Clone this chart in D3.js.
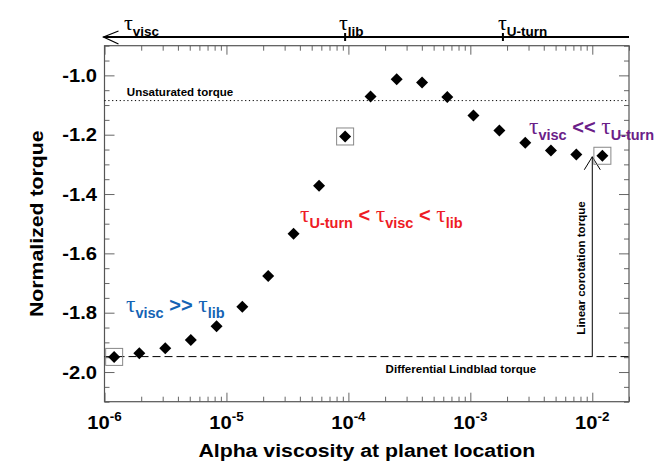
<!DOCTYPE html>
<html><head><meta charset="utf-8">
<script src="https://cdn.jsdelivr.net/npm/d3@7"></script>
<style>body{margin:0;background:#fff}svg{display:block}</style>
</head><body>
<svg id="c" width="664" height="475"></svg>
<script>
// ---- data ----
const alphaVals = [1.2e-6, 1.93e-6, 3.15e-6, 5.1e-6, 8.3e-6, 1.35e-5, 2.2e-5, 3.55e-5, 5.75e-5, 9.4e-5,
                   1.52e-4, 2.49e-4, 4.02e-4, 6.47e-4, 1.06e-3, 1.73e-3, 2.82e-3, 4.58e-3, 7.4e-3, 1.21e-2];
const torqueVals = [-1.949, -1.937, -1.920, -1.892, -1.846, -1.780, -1.676, -1.534, -1.372, -1.206,
                    -1.071, -1.013, -1.024, -1.073, -1.135, -1.186, -1.227, -1.253, -1.267, -1.271];
const boxedIdx = [0, 9, 19];
const yTickVals = [-2.0, -1.8, -1.6, -1.4, -1.2, -1.0];
const yTickLabels = ["-2.0", "-1.8", "-1.6", "-1.4", "-1.2", "-1.0"];
const xTickExps = [-6, -5, -4, -3, -2];
const lindbladTorque = -1.948;
const unsaturatedTorque = -1.085;
const tauLib = 9.4e-5, tauUturn = 1.85e-3;
const corotationX = 1e-2;

// ---- setup ----
const svg = d3.select("#c");
const L = 104.5, R = 629, T = 45.7, B = 401.7;
const x = d3.scaleLog().domain([1e-6, 2e-2]).range([L, R]);
const y = d3.scaleLinear().domain([-2.1, -0.9]).range([B, T]);
const SANS = "'Liberation Sans', Arial, Helvetica, sans-serif";
const SERIF = "'Liberation Serif', 'Times New Roman', serif";
const SX = 1.12;

const xMajor = xTickExps.map(e => Math.pow(10, e));
const xMinor = [];
for (let e = -6; e <= -2; e++) for (let k = 2; k <= 9; k++) { const v = k * Math.pow(10, e); if (v <= 2e-2 + 1e-12) xMinor.push(v); }
const yMinor = d3.range(-2.1, -0.899, 0.05).map(v => +v.toFixed(2)).filter(v => !yTickVals.some(t => Math.abs(t - v) < 1e-6));

const tickColor = "#666";
function styleAxis(g) { g.select(".domain").remove(); g.selectAll("line").attr("stroke", tickColor).attr("stroke-width", 1); g.selectAll("text").remove(); }

svg.append("g").attr("transform", `translate(0,${B})`).call(d3.axisBottom(x).tickValues(xMajor).tickSizeInner(-9).tickSizeOuter(0).tickFormat("")).call(styleAxis);
svg.append("g").attr("transform", `translate(0,${B})`).call(d3.axisBottom(x).tickValues(xMinor).tickSizeInner(-5).tickSizeOuter(0).tickFormat("")).call(styleAxis);
svg.append("g").attr("transform", `translate(0,${T})`).call(d3.axisTop(x).tickValues(xMajor).tickSizeInner(-9).tickSizeOuter(0).tickFormat("")).call(styleAxis);
svg.append("g").attr("transform", `translate(0,${T})`).call(d3.axisTop(x).tickValues(xMinor).tickSizeInner(-5).tickSizeOuter(0).tickFormat("")).call(styleAxis);
svg.append("g").attr("transform", `translate(${L},0)`).call(d3.axisLeft(y).tickValues(yTickVals).tickSizeInner(-10).tickSizeOuter(0).tickFormat("")).call(styleAxis);
svg.append("g").attr("transform", `translate(${L},0)`).call(d3.axisLeft(y).tickValues(yMinor).tickSizeInner(-5).tickSizeOuter(0).tickFormat("")).call(styleAxis);
svg.append("g").attr("transform", `translate(${R},0)`).call(d3.axisRight(y).tickValues(yTickVals).tickSizeInner(-10).tickSizeOuter(0).tickFormat("")).call(styleAxis);
svg.append("g").attr("transform", `translate(${R},0)`).call(d3.axisRight(y).tickValues(yMinor).tickSizeInner(-5).tickSizeOuter(0).tickFormat("")).call(styleAxis);

svg.append("rect").attr("x", L).attr("y", T).attr("width", R - L).attr("height", B - T)
  .attr("fill", "none").attr("stroke", "#555").attr("stroke-width", 1.2);

function txt(px, py, sx, rot) {
  let tr = `translate(${px},${py})`;
  if (rot) tr += ` rotate(${rot})`;
  tr += ` scale(${sx},1)`;
  return svg.append("text").attr("transform", tr).attr("font-family", SANS).attr("font-weight", "bold");
}

yTickVals.forEach((v, i) => {
  txt(97, y(v) + 6.5, SX).attr("text-anchor", "end").attr("font-size", 18).attr("fill", "#000").text(yTickLabels[i]);
});
xTickExps.forEach(e => {
  const t = txt(x(Math.pow(10, e)), 429, SX).attr("text-anchor", "middle").attr("font-size", 18).attr("fill", "#000");
  t.append("tspan").text("10");
  t.append("tspan").attr("font-size", 12).attr("dy", -8).text(String(e));
});

txt((L + R) / 2, 457, SX).attr("text-anchor", "middle").attr("font-size", 19).text("Alpha viscosity at planet location");
txt(43, (T + B) / 2, SX, -90).attr("text-anchor", "middle").attr("font-size", 19).text("Normalized torque");

svg.append("line").attr("x1", L).attr("x2", R).attr("y1", y(lindbladTorque)).attr("y2", y(lindbladTorque))
  .attr("stroke", "#000").attr("stroke-width", 1).attr("stroke-dasharray", "8,4");
svg.append("line").attr("x1", L).attr("x2", R).attr("y1", y(unsaturatedTorque)).attr("y2", y(unsaturatedTorque))
  .attr("stroke", "#000").attr("stroke-width", 1).attr("stroke-dasharray", "1.2,2.6");

txt(126.8, 95.5, 1.05).attr("font-size", 11).text("Unsaturated torque");
txt(385.6, 372.5, 1.05).attr("font-size", 11).text("Differential Lindblad torque");

const ax = x(corotationX), ayTop = y(torqueVals[torqueVals.length - 1]) + 1, ayBot = y(lindbladTorque);
svg.append("line").attr("x1", ax).attr("x2", ax).attr("y1", ayBot).attr("y2", ayTop).attr("stroke", "#000").attr("stroke-width", 1);
svg.append("path").attr("d", `M${ax - 8},${ayTop + 13}L${ax},${ayTop}L${ax + 8},${ayTop + 13}`)
  .attr("fill", "none").attr("stroke", "#000").attr("stroke-width", 1);
txt(585, 268, 1.05, -90).attr("text-anchor", "middle").attr("font-size", 11).text("Linear corotation torque");

svg.append("g").selectAll("rect").data(boxedIdx).join("rect")
  .attr("x", i => x(alphaVals[i]) - 8.5).attr("y", i => y(torqueVals[i]) - 8.5)
  .attr("width", 17).attr("height", 17).attr("fill", "none").attr("stroke", "#888").attr("stroke-width", 1);

const diamond = d3.symbol().type(d3.symbolSquare).size(72);
svg.append("g").selectAll("path").data(alphaVals.map((a, i) => [a, torqueVals[i]])).join("path")
  .attr("d", diamond)
  .attr("transform", d => `translate(${x(d[0])},${y(d[1])}) rotate(45)`)
  .attr("fill", "#000");

const topY = 37;
svg.append("line").attr("x1", x(1e-6) - 1).attr("x2", R).attr("y1", topY).attr("y2", topY).attr("stroke", "#000").attr("stroke-width", 2);
svg.append("path").attr("d", `M${x(1e-6) + 14},${topY - 6}L${x(1e-6) - 1},${topY}L${x(1e-6) + 14},${topY + 7}`)
  .attr("fill", "none").attr("stroke", "#000").attr("stroke-width", 1.2);
[tauLib, tauUturn].forEach(v => {
  svg.append("line").attr("x1", x(v)).attr("x2", x(v)).attr("y1", topY - 4).attr("y2", topY + 4).attr("stroke", "#000").attr("stroke-width", 2);
});

function tauLabel(px, py, parts, color, big) {
  const tauSize = big ? 23.5 : 22, subSize = big ? 14.5 : 13.5, opSize = 20;
  const t = svg.append("text").attr("x", px).attr("y", py).attr("fill", color).attr("font-family", SANS).attr("font-weight", "bold");
  let level = 0;
  parts.forEach(p => {
    const s = t.append("tspan");
    let target = 0;
    if (p.t === "tau") { s.attr("font-family", SERIF).attr("font-weight", "normal").attr("font-size", tauSize).text("\u03C4"); target = 0; }
    else if (p.t === "sub") { s.attr("font-size", subSize).text(p.s); target = 6; }
    else { s.attr("font-size", opSize).text(p.s); target = 0; }
    s.attr("dy", target - level);
    level = target;
  });
  return t;
}
tauLabel(124, 30, [{t: "tau"}, {t: "sub", s: "visc"}], "#000", false);
tauLabel(339, 30, [{t: "tau"}, {t: "sub", s: "lib"}], "#000", false);
tauLabel(498, 30, [{t: "tau"}, {t: "sub", s: "U-turn"}], "#000", false);

const blue = "#1463b4", red = "#ee1c25", purple = "#6a2088";
tauLabel(126, 312, [{t: "tau"}, {t: "sub", s: "visc"}, {t: "op", s: " >> "}, {t: "tau"}, {t: "sub", s: "lib"}], blue, true);
tauLabel(300, 221.5, [{t: "tau"}, {t: "sub", s: "U-turn"}, {t: "op", s: " < "}, {t: "tau"}, {t: "sub", s: "visc"}, {t: "op", s: " < "}, {t: "tau"}, {t: "sub", s: "lib"}], red, true);
tauLabel(529, 134, [{t: "tau"}, {t: "sub", s: "visc"}, {t: "op", s: " << "}, {t: "tau"}, {t: "sub", s: "U-turn"}], purple, true);
</script>
</body></html>
